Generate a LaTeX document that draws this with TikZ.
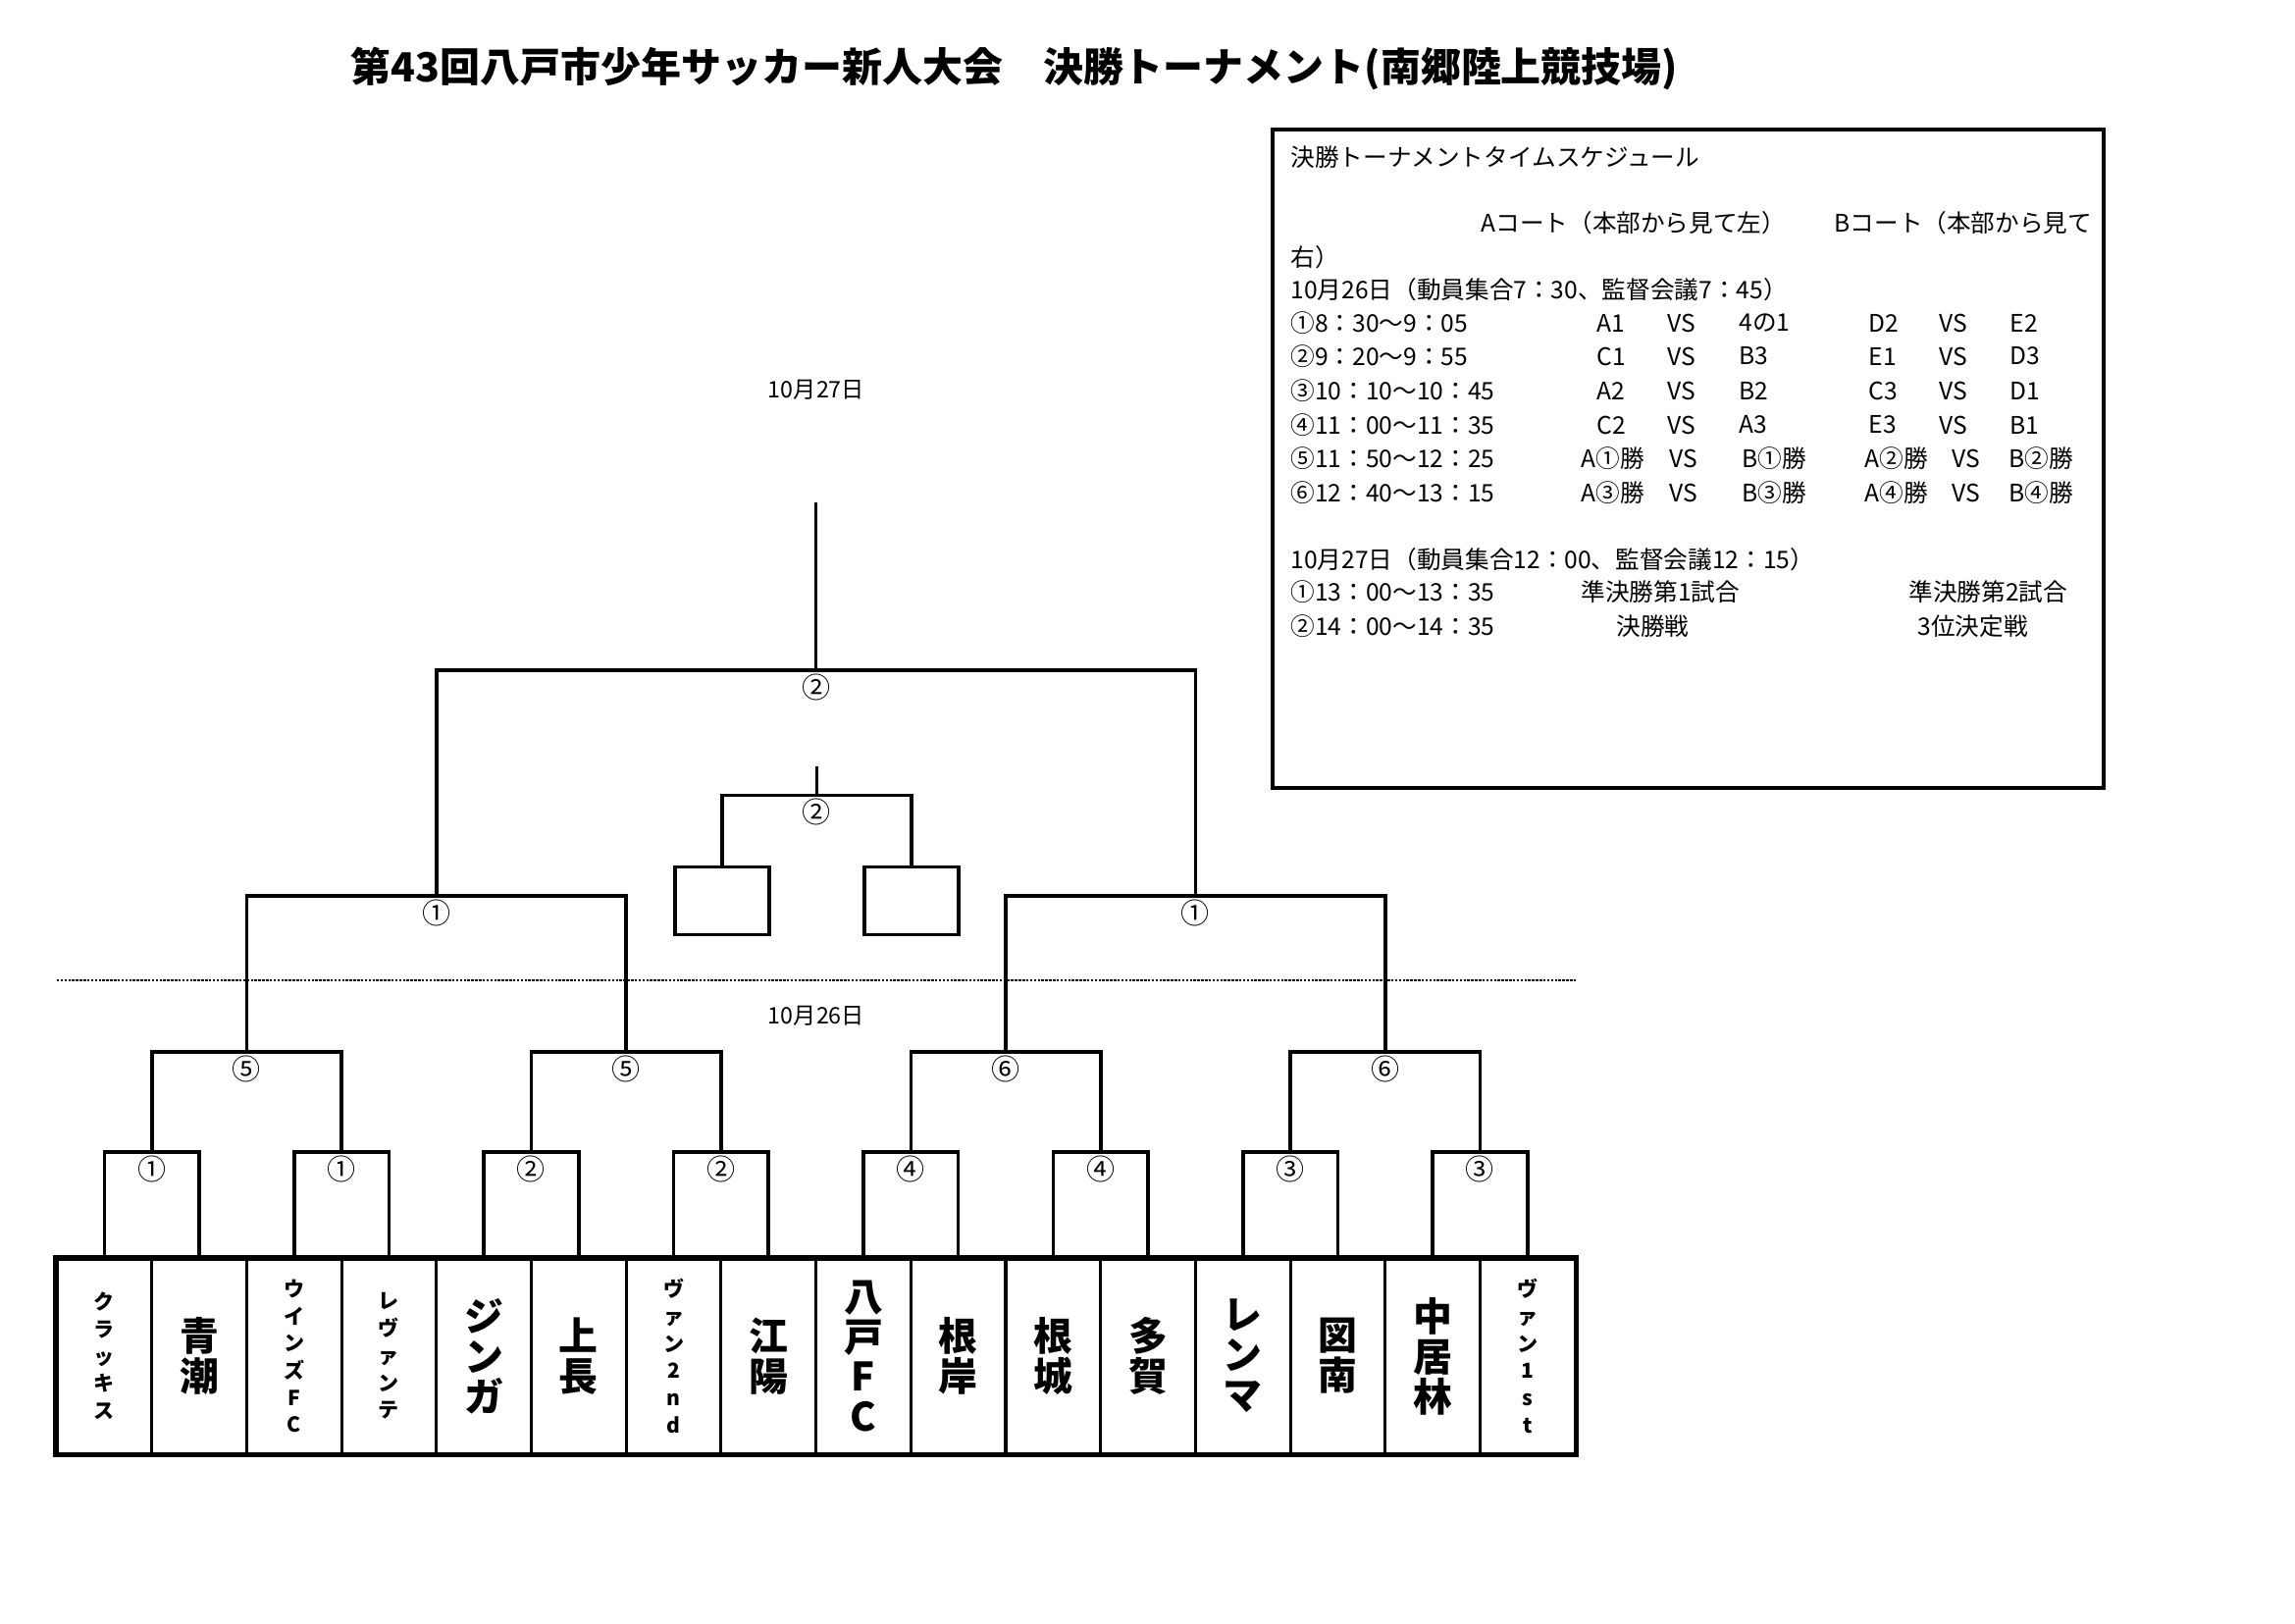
\documentclass[tikz,border=0pt]{standalone}
\usepackage{fontspec}
\setmainfont{Noto Sans CJK JP}
\usetikzlibrary{positioning,calc}

\begin{document}
\begin{tikzpicture}[x=0.127mm,y=-0.127mm,
  every node/.style={inner sep=0pt},
  ttl/.style={font=\fontsize{14.8}{16}\selectfont\bfseries},
  sched/.style={anchor=west,font=\fontsize{8.9}{10}\selectfont},
  dayno/.style={font=\fontsize{8.4}{10}\selectfont},
  mno/.style={font=\fontsize{10.5}{11}\selectfont},
  cell/.style={draw,line width=1.1pt,minimum width=12.28mm,
               minimum height=25.15mm,align=center},
  bigteam/.style={cell,font=\fontsize{14.4}{14.8}\selectfont\bfseries},
  smallteam/.style={cell,font=\fontsize{7.6}{10}\selectfont\bfseries},
  semi/.style={draw,line width=1.3pt,minimum width=12.2mm,minimum height=8.8mm},
  brk/.style={line width=1.3pt},
  stub/.style={line width=0.9pt}
]
\useasboundingbox (0,0) rectangle (2339,1654);

% title
\node[ttl] (title) at (1034,70)
  {第43回八戸市少年サッカー新人大会　決勝トーナメント(南郷陸上競技場)};

% time schedule box
\draw[line width=1.3pt] (1297,132) rectangle (2144,803);
\node[sched] (s0)  at (1315,160) {決勝トーナメントタイムスケジュール};
\node[sched] (sa)  at (1509,227) {Aコート（本部から見て左）};
\node[sched] (sb)  at (1869,227) {Bコート（本部から見て};
\node[sched] (sb2) at (1315,262) {右）};
\node[sched] (d1)  at (1315,295) {10月26日（動員集合7：30、監督会議7：45）};
\foreach \i/\y/\tm/\pa/\pb/\pc/\pd in {
   1/329/{①8：30〜9：05}/A1/4の1/D2/E2,
   2/363/{②9：20〜9：55}/C1/B3/E1/D3,
   3/398/{③10：10〜10：45}/A2/B2/C3/D1,
   4/433/{④11：00〜11：35}/C2/A3/E3/B1}{
  \node[sched] (m\i)  at (1315,\y) {\tm};
  \node[sched] (m\i a) at (1627,\y) {\pa};
  \node[sched] (m\i v) at (1699,\y) {VS};
  \node[sched] (m\i b) at (1772,\y) {\pb};
  \node[sched] (m\i c) at (1904,\y) {\pc};
  \node[sched] (m\i w) at (1976,\y) {VS};
  \node[sched] (m\i d) at (2048,\y) {\pd};
}
\foreach \i/\y/\tm/\pa/\pb/\pc/\pd in {
   5/467/{⑤11：50〜12：25}/{A①勝}/{B①勝}/{A②勝}/{B②勝},
   6/502/{⑥12：40〜13：15}/{A③勝}/{B③勝}/{A④勝}/{B④勝}}{
  \node[sched] (m\i)  at (1315,\y) {\tm};
  \node[sched] (m\i a) at (1611,\y) {\pa};
  \node[sched] (m\i v) at (1701,\y) {VS};
  \node[sched] (m\i b) at (1775,\y) {\pb};
  \node[sched] (m\i c) at (1900,\y) {\pc};
  \node[sched] (m\i w) at (1989,\y) {VS};
  \node[sched] (m\i d) at (2047,\y) {\pd};
}
\node[sched] (d2)  at (1315,570) {10月27日（動員集合12：00、監督会議12：15）};
\node[sched] (n1)  at (1315,603) {①13：00〜13：35};
\node[sched] (n1a) at (1611,603) {準決勝第1試合};
\node[sched] (n1b) at (1945,603) {準決勝第2試合};
\node[sched] (n2)  at (1315,638) {②14：00〜14：35};
\node[sched] (n2a) at (1647,638) {決勝戦};
\node[sched] (n2b) at (1954,638) {3位決定戦};

% day labels and divider
\node[dayno] (day2) at (832,397)  {10月27日};
\node[dayno] (day1) at (832,1035) {10月26日};
\draw[line width=0.7pt,dash pattern=on 0.9pt off 0.5pt] (58,999) -- (1606,999);

% team row
\foreach \i/\s/\nm in {
   1/smallteam/{ク\\ラ\\ッ\\キ\\ス},
   2/bigteam/{青\\潮},
   3/smallteam/{ウ\\イ\\ン\\ズ\\F\\C},
   4/smallteam/{レ\\ヴ\\ァ\\ン\\テ},
   5/bigteam/{ジ\\ン\\ガ},
   6/bigteam/{上\\長},
   7/smallteam/{ヴ\\ァ\\ン\\2\\n\\d},
   8/bigteam/{江\\陽},
   9/bigteam/{八\\戸\\F\\C},
   10/bigteam/{根\\岸},
   11/bigteam/{根\\城},
   12/bigteam/{多\\賀},
   13/bigteam/{レ\\ン\\マ},
   14/bigteam/{図\\南},
   15/bigteam/{中\\居\\林},
   16/smallteam/{ヴ\\ァ\\ン\\1\\s\\t}}
  \node[\s] (t\i) at ({58+96.7*(\i-0.5)},1382) {\nm};
\draw[line width=1.9pt] (t1.north west) rectangle (t16.south east);

% first round
\foreach \k/\lb in {1/①,2/①,3/②,4/②,5/④,6/④,7/③,8/③}{
  \pgfmathtruncatemacro\ia{2*\k-1}
  \pgfmathtruncatemacro\ib{2*\k}
  \coordinate (p1-\k) at ({58+96.7*(2*\k-1)},1174);
  \draw[brk] (t\ia.north) |- (p1-\k) -| (t\ib.north);
  \node[mno,below=0.4mm of p1-\k] (l1-\k) {\lb};
}
% second round
\foreach \k/\lb in {1/⑤,2/⑤,3/⑥,4/⑥}{
  \pgfmathtruncatemacro\ia{2*\k-1}
  \pgfmathtruncatemacro\ib{2*\k}
  \coordinate (p2-\k) at ($(p1-\ia)!.5!(p1-\ib)+(0,-102)$);
  \draw[brk] (p1-\ia) |- (p2-\k) -| (p1-\ib);
  \node[mno,below=0.4mm of p2-\k] (l2-\k) {\lb};
}
% semi finals
\foreach \k in {1,2}{
  \pgfmathtruncatemacro\ia{2*\k-1}
  \pgfmathtruncatemacro\ib{2*\k}
  \coordinate (p3-\k) at ($(p2-\ia)!.5!(p2-\ib)+(0,-159)$);
  \draw[brk] (p2-\ia) |- (p3-\k) -| (p2-\ib);
  \node[mno,below=0.4mm of p3-\k] (l3-\k) {①};
}
% final
\coordinate (fin) at ($(p3-1)!.5!(p3-2)+(0,-230)$);
\coordinate (fintop) at ($(fin)+(0,-171)$);
\draw[brk] (p3-1) |- (fin) -| (p3-2);
\draw[stub] (fin) -- (fintop);
\node[mno,below=0.4mm of fin] (lf) {②};

% third place
\node[semi] (sf1) at (736,918) {};
\node[semi] (sf2) at (929,918) {};
\coordinate (third) at ($(sf1.north)!.5!(sf2.north)+(0,-71)$);
\coordinate (thirdtop) at ($(third)+(0,-30)$);
\draw[brk] (sf1.north) |- (third) -| (sf2.north);
\draw[stub] (third) -- (thirdtop);
\node[mno,below=0.4mm of third] (lt) {②};
\end{tikzpicture}
\end{document}
